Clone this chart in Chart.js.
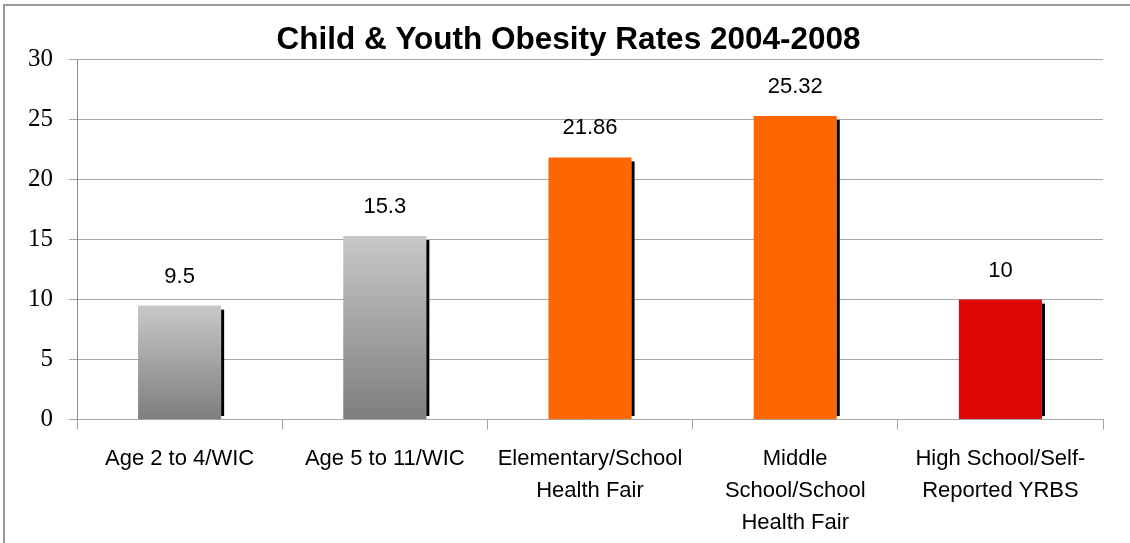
<!DOCTYPE html>
<html>
<head>
<meta charset="utf-8">
<script src="https://cdn.jsdelivr.net/npm/chart.js@4"></script>
<style>
  html, body { margin: 0; padding: 0; background: #fff; overflow: hidden; }
  .frame { position: absolute; background: #9a9a9a; pointer-events: none; }
  #frameTop { left: 3px; top: 4px; width: 1127px; height: 2px; }
  #frameLeft { left: 3px; top: 4px; width: 2px; height: 539px; }
  canvas { position: absolute; left: 0; top: 0; }
</style>
</head>
<body>
<canvas id="myChart" width="1130" height="543"></canvas>
<div class="frame" id="frameTop"></div>
<div class="frame" id="frameLeft"></div>
<script>
// data
const categories = [
  ['Age 2 to 4/WIC'],
  ['Age 5 to 11/WIC'],
  ['Elementary/School', 'Health Fair'],
  ['Middle', 'School/School', 'Health Fair'],
  ['High School/Self-', 'Reported YRBS']
];
const rates = [9.5, 15.3, 21.86, 25.32, 10];
const yTicks = [0, 5, 10, 15, 20, 25, 30];

// bar fills: 'gray' means the grey gradient
const barFills = ['gray', 'gray', '#ff6600', '#ff6600', '#dd0806'];

// title sits a bit right of the canvas centre in the original
const titleNudge = {
  id: 'titleNudge',
  afterLayout(chart) {
    if (chart.titleBlock) chart.titleBlock.left = 34;
  }
};

const barShadow = {
  id: 'barShadow',
  afterDatasetsDraw(chart) {
    const ctx = chart.ctx;
    const meta = chart.getDatasetMeta(0);
    ctx.save();
    ctx.fillStyle = '#000';
    meta.data.forEach(bar => {
      ctx.fillRect(bar.x + bar.width / 2, bar.y + 4, 3, bar.base - bar.y - 7);
    });
    ctx.restore();
  }
};

const valueLabels = {
  id: 'valueLabels',
  afterDatasetsDraw(chart) {
    const ctx = chart.ctx;
    const meta = chart.getDatasetMeta(0);
    ctx.save();
    ctx.font = '22px "Liberation Sans", Arial, sans-serif';
    ctx.fillStyle = '#000';
    ctx.textAlign = 'center';
    ctx.textBaseline = 'middle';
    meta.data.forEach((bar, i) => {
      ctx.fillText(String(rates[i]), bar.x, bar.y - 29);
    });
    ctx.restore();
  }
};

new Chart(document.getElementById('myChart').getContext('2d'), {
  type: 'bar',
  data: {
    labels: categories,
    datasets: [{
      data: rates,
      backgroundColor: (c) => {
        const fill = barFills[c.dataIndex];
        if (fill !== 'gray') return fill;
        const chart = c.chart;
        if (!chart.chartArea || !chart.scales.y) return '#a8a8a8';
        const top = chart.scales.y.getPixelForValue(rates[c.dataIndex]);
        const base = chart.scales.y.getPixelForValue(0);
        const g = chart.ctx.createLinearGradient(0, top, 0, base);
        g.addColorStop(0, '#c8c8c8');
        g.addColorStop(1, '#7e7e7e');
        return g;
      },
      borderWidth: 0,
      barPercentage: 0.81,
      categoryPercentage: 0.5
    }]
  },
  options: {
    responsive: false,
    animation: false,
    layout: { padding: { left: 12, right: 27, top: 0, bottom: 0 } },
    plugins: {
      legend: { display: false },
      tooltip: { enabled: false },
      title: {
        display: true,
        text: 'Child & Youth Obesity Rates 2004-2008',
        color: '#000',
        font: { family: '"Liberation Sans", Arial, sans-serif', size: 31.5, weight: 'bold', lineHeight: 1.2 },
        padding: { top: 21, bottom: 1 }
      }
    },
    scales: {
      x: {
        afterFit: (axis) => { axis.height = 123.5; },
        grid: { drawOnChartArea: false, offset: true, tickLength: 10, color: '#a6a6a6' },
        border: { color: '#a6a6a6' },
        ticks: {
          color: '#000',
          padding: 13,
          maxRotation: 0,
          autoSkip: false,
          font: { family: '"Liberation Sans", Arial, sans-serif', size: 22, lineHeight: 32 / 22 }
        }
      },
      y: {
        min: 0,
        max: 30,
        afterBuildTicks: (axis) => { axis.ticks = yTicks.map(v => ({ value: v })); },
        grid: { color: '#a6a6a6', tickLength: 8 },
        border: { color: '#8c8c8c' },
        ticks: {
          color: '#000',
          padding: 16,
          font: { family: '"Liberation Serif", "Times New Roman", serif', size: 25 }
        }
      }
    }
  },
  plugins: [titleNudge, barShadow, valueLabels]
});
</script>
</body>
</html>
